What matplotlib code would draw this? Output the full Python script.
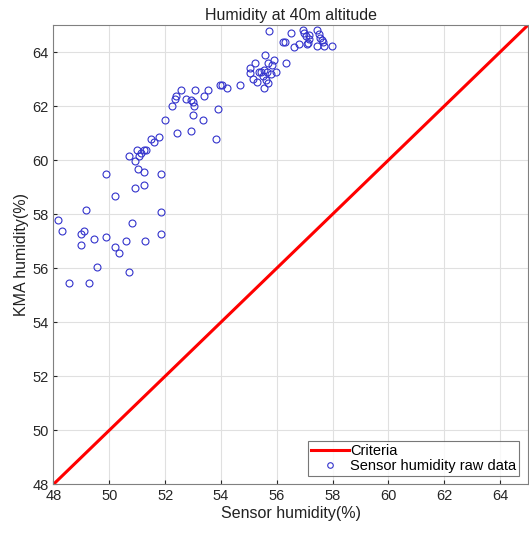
import numpy as np
import matplotlib.pyplot as plt

plt.rcParams['font.family'] = ['Liberation Sans', 'DejaVu Sans']

# Sensor humidity (x) vs KMA humidity (y)
sensor = [48.18, 48.30, 48.56, 49.17, 48.98, 49.11, 48.98, 49.29, 49.46, 49.55,
          49.87, 49.88, 50.20, 50.21, 50.35, 50.61, 50.69, 50.81, 50.92, 51.04,
          51.24, 50.93, 51.24, 51.29, 51.85, 51.85, 51.85,
          50.69, 50.98, 51.07, 51.13, 51.24, 51.31, 51.49, 51.62, 51.80, 51.98,
          52.25, 52.35, 52.38, 52.57, 52.44, 52.75, 52.93, 52.99, 53.05, 53.07,
          52.99, 52.94, 53.36, 53.39, 53.55, 53.81, 53.91, 53.95, 54.03, 54.21,
          54.67,
          55.03, 55.06, 55.14, 55.23, 55.30, 55.35, 55.44, 55.50, 55.54, 55.59,
          55.62, 55.56, 55.66, 55.68, 55.70, 55.78, 55.82, 55.89, 55.98, 56.34,
          56.28, 56.63, 56.79, 57.09,
          55.74, 56.24, 56.51, 56.95, 56.99, 57.05, 57.14, 57.11, 57.17, 57.43,
          57.50, 57.56, 57.62, 57.67, 57.46, 57.70, 57.98]
kma = [57.78, 57.37, 55.47, 58.16, 57.27, 57.37, 56.86, 55.47, 57.07, 56.06,
       57.17, 59.49, 58.68, 56.78, 56.57, 56.99, 55.86, 57.68, 59.97, 59.68,
       59.58, 58.97, 59.09, 56.99, 59.49, 58.07, 57.28,
       60.17, 60.38, 60.17, 60.26, 60.38, 60.38, 60.79, 60.67, 60.87, 61.49,
       61.99, 62.27, 62.38, 62.59, 60.99, 62.28, 62.22, 62.17, 61.99, 62.59,
       61.67, 61.09, 61.49, 62.38, 62.59, 60.79, 61.89, 62.79, 62.79, 62.68,
       62.79,
       63.41, 63.22, 63.00, 63.59, 62.91, 63.28, 63.28, 63.10, 63.34, 63.90,
       62.97, 62.69, 63.28, 62.85, 63.59, 63.19, 63.53, 63.71, 63.28, 63.59,
       64.39, 64.19, 64.30, 64.31,
       64.80, 64.39, 64.70, 64.83, 64.70, 64.58, 64.49, 64.33, 64.64, 64.83,
       64.67, 64.54, 64.46, 64.37, 64.21, 64.24, 64.21]

criteria = [48, 65]
ticks = np.arange(48, 65, 2)

fig = plt.figure(figsize=(5.29, 5.34), dpi=100)
ax = fig.add_axes([0.101, 0.093, 0.897, 0.86])

ax.plot(criteria, criteria, color='red', lw=2.2, label='Criteria')
ax.plot(sensor, kma, 'o', mfc='none', mec='#3333cc', ms=5, mew=0.8,
        label='Sensor humidity raw data')

ax.set_xlim(48, 65)
ax.set_ylim(48, 65)
ax.set_xticks(ticks)
ax.set_yticks(ticks)
ax.grid(True, color='#e0e0e0', lw=0.8)
ax.set_axisbelow(True)
ax.tick_params(direction='in', labelsize=10.5, colors='#262626', length=3)
for s in ax.spines.values():
    s.set_color('#808080')

ax.set_title('Humidity at 40m altitude', fontsize=11.5, color='#222222', pad=4)
ax.set_xlabel('Sensor humidity(%)', fontsize=11.5, color='#222222', labelpad=2)
ax.set_ylabel('KMA humidity(%)', fontsize=11.5, color='#222222', labelpad=2)

leg = ax.legend(loc='lower right', fontsize=10.5, frameon=True, fancybox=False,
                edgecolor='#555555', borderpad=0.2, handlelength=2.6,
                handletextpad=0.1, labelspacing=0.05, borderaxespad=0.6,
                markerscale=0.8)
leg.get_frame().set_linewidth(0.8)

fig.savefig('out.png', dpi=100)
